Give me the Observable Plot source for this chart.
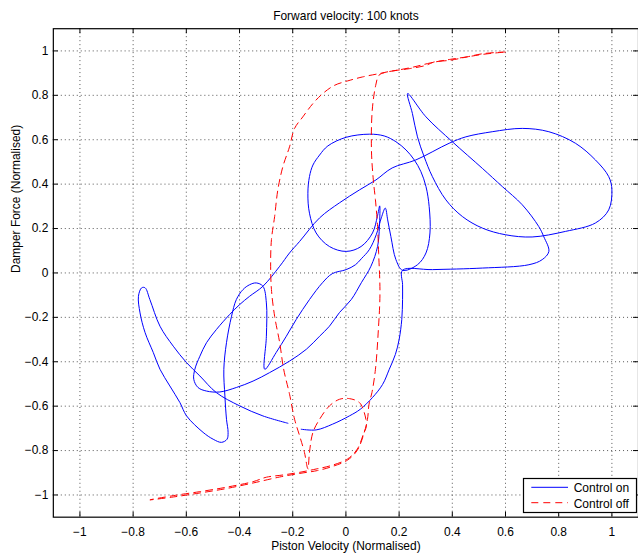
<!DOCTYPE html>
<html><head><meta charset="utf-8">
<script src="https://cdn.jsdelivr.net/npm/d3@7"></script>
<script src="https://cdn.jsdelivr.net/npm/@observablehq/plot@0.6"></script>
<style>
html,body{margin:0;padding:0;overflow:hidden;background:#fff;}
#wrap{position:relative;width:638px;height:555px;overflow:hidden;}
#legend{position:absolute;left:522px;top:477px;}
</style></head><body><div id="wrap"></div>
<script>
// Axis ticks
const xTicks = [-1, -0.8, -0.6, -0.4, -0.2, 0, 0.2, 0.4, 0.6, 0.8, 1];
const yTicks = [-1, -0.8, -0.6, -0.4, -0.2, 0, 0.2, 0.4, 0.6, 0.8, 1];

// Series: Control on (piston velocity, damper force)
const onX = [-0.168,-0.112,-0.050,0.013,0.054,0.100,0.138,0.163,0.186,0.200,
0.210,0.213,0.213,0.213,0.325,0.513,0.688,0.738,0.763,0.744,
0.725,0.663,0.588,0.513,0.400,0.301,0.232,0.250,0.269,0.294,
0.325,0.376,0.438,0.513,0.600,0.700,0.825,0.938,0.988,1.000,
0.988,0.938,0.863,0.763,0.663,0.550,0.451,0.388,0.263,0.174,
0.113,0.051,-0.024,-0.099,-0.174,-0.212,-0.249,-0.312,-0.362,-0.399,
-0.437,-0.487,-0.524,-0.549,-0.568,-0.572,-0.556,-0.524,-0.474,-0.412,
-0.349,-0.287,-0.212,-0.149,-0.099,-0.062,-0.024,0.020,0.058,0.094,
0.119,0.126,0.127,0.118,0.100,0.057,0.001,-0.062,-0.112,-0.137,
-0.143,-0.137,-0.124,-0.099,-0.068,0.001,0.088,0.144,0.188,0.226,
0.257,0.282,0.301,0.313,0.316,0.301,0.269,0.213,0.188,0.169,
0.157,0.148,0.133,0.114,0.088,0.058,0.036,0.001,-0.051,-0.088,
-0.137,-0.187,-0.224,-0.262,-0.305,-0.299,-0.299,-0.312,-0.337,-0.362,
-0.387,-0.412,-0.430,-0.449,-0.459,-0.455,-0.449,-0.443,-0.447,-0.468,
-0.499,-0.537,-0.599,-0.624,-0.662,-0.699,-0.724,-0.755,-0.774,-0.780,
-0.768,-0.755,-0.737,-0.699,-0.649,-0.599,-0.549,-0.487,-0.399,-0.312,
-0.218];
const onY = [-0.704,-0.707,-0.681,-0.644,-0.614,-0.561,-0.502,-0.434,-0.367,-0.300,
-0.210,-0.120,-0.053,0.012,0.015,0.022,0.037,0.060,0.097,0.163,
0.209,0.307,0.389,0.471,0.591,0.703,0.808,0.718,0.613,0.524,
0.434,0.329,0.254,0.202,0.172,0.162,0.187,0.225,0.284,0.374,
0.434,0.509,0.584,0.636,0.651,0.636,0.613,0.584,0.509,0.473,
0.419,0.374,0.316,0.248,0.142,0.090,0.030,-0.060,-0.105,-0.142,
-0.187,-0.255,-0.314,-0.375,-0.434,-0.479,-0.516,-0.532,-0.536,-0.516,
-0.487,-0.449,-0.397,-0.344,-0.285,-0.240,-0.178,-0.120,-0.044,0.030,
0.119,0.209,0.302,0.253,0.180,0.119,0.097,0.119,0.180,0.269,
0.359,0.434,0.486,0.531,0.572,0.611,0.625,0.617,0.591,0.554,
0.509,0.456,0.389,0.299,0.180,0.090,0.037,0.012,0.060,0.164,
0.239,0.292,0.248,0.172,0.105,0.064,0.037,0.015,-0.003,-0.044,
-0.120,-0.210,-0.285,-0.358,-0.434,-0.285,-0.135,-0.060,-0.045,-0.053,
-0.075,-0.120,-0.195,-0.314,-0.434,-0.554,-0.659,-0.718,-0.749,-0.763,
-0.749,-0.718,-0.644,-0.584,-0.509,-0.434,-0.359,-0.269,-0.180,-0.105,
-0.067,-0.067,-0.120,-0.240,-0.330,-0.404,-0.464,-0.539,-0.599,-0.644,
-0.677];

// Series: Control off
const offX = [0.599,0.518,0.455,0.393,0.331,0.301,0.238,0.175,0.126,0.063,
0.007,-0.043,-0.087,-0.124,-0.162,-0.193,-0.212,-0.237,-0.256,-0.268,
-0.280,-0.283,-0.280,-0.268,-0.249,-0.234,-0.212,-0.193,-0.174,-0.156,
-0.143,-0.137,-0.124,-0.099,-0.062,-0.024,0.013,0.051,0.069,0.077,
0.068,0.043,0.006,-0.057,-0.112,-0.174,-0.237,-0.299,-0.349,-0.449,
-0.549,-0.649,-0.737,-0.649,-0.549,-0.449,-0.349,-0.249,-0.174,-0.107,
-0.057,0.006,0.043,0.068,0.081,0.087,0.098,0.111,0.122,0.128,
0.123,0.119,0.111,0.103,0.096,0.099,0.112,0.124,0.144,0.193,
0.256,0.318,0.392,0.455,0.518,0.599];
const offY = [0.995,0.988,0.973,0.958,0.950,0.935,0.920,0.910,0.898,0.883,
0.865,0.845,0.808,0.763,0.703,0.651,0.568,0.479,0.374,0.254,
0.150,0.045,-0.075,-0.195,-0.314,-0.434,-0.546,-0.659,-0.734,-0.808,
-0.883,-0.808,-0.718,-0.659,-0.599,-0.569,-0.566,-0.584,-0.629,-0.690,
-0.718,-0.793,-0.838,-0.868,-0.883,-0.898,-0.910,-0.920,-0.940,-0.965,
-0.985,-1.003,-1.022,-1.009,-0.991,-0.971,-0.946,-0.919,-0.903,-0.890,
-0.874,-0.843,-0.798,-0.722,-0.659,-0.591,-0.538,-0.434,-0.255,-0.090,
0.090,0.209,0.329,0.419,0.554,0.733,0.845,0.890,0.902,0.913,
0.928,0.946,0.962,0.973,0.985,0.995];

const title = "Forward velocity: 100 knots";
const xLabel = "Piston Velocity (Normalised)";
const yLabel = "Damper Force (Normalised)";
const seriesNames = ["Control on", "Control off"];

const onData = onX.map((x, i) => ({x, y: onY[i]}));
const offData = offX.map((x, i) => ({x, y: offY[i]}));
const fmt = d => (d < 0 ? "\u2212" : "") + Math.abs(d);

const W = 640, H = 555, mL = 53, mR = 0, mT = 28.3, mB = 36.7;
const fw = W - mL - mR, fh = H - mT - mB;
const FONT = "'Liberation Sans', Arial, Helvetica, sans-serif";

const chart = Plot.plot({
  width: W, height: H,
  marginLeft: mL, marginRight: mR, marginTop: mT, marginBottom: mB,
  x: {domain: [-1.1, 1.1]},
  y: {domain: [-1.1, 1.1]},
  style: {fontFamily: FONT, fontSize: "12px", background: "white", color: "black", overflow: "visible"},
  marks: [
    Plot.ruleX(xTicks, {stroke: "#555", strokeWidth: 1, strokeDasharray: "1,3"}),
    Plot.ruleY(yTicks, {stroke: "#555", strokeWidth: 1, strokeDasharray: "1,3"}),
    Plot.line(onData, {x: "x", y: "y", stroke: "#0000ff", strokeWidth: 1, curve: "catmull-rom"}),
    Plot.line(offData, {x: "x", y: "y", stroke: "#ff0000", strokeWidth: 1, strokeDasharray: "7,5", curve: "catmull-rom"}),
    Plot.ruleX(xTicks, {insetTop: fh - 5, stroke: "black"}),
    Plot.ruleX(xTicks, {insetBottom: fh - 5, stroke: "black"}),
    Plot.ruleY(yTicks, {insetRight: fw - 5, stroke: "black"}),
    Plot.ruleY(yTicks, {insetLeft: fw - 5, stroke: "black"}),
    Plot.frame({stroke: "black", strokeWidth: 1.2}),
    Plot.axisX(xTicks, {tickSize: 0, tickPadding: 10, tickFormat: fmt, label: null, fontSize: 12}),
    Plot.axisY(yTicks, {tickSize: 0, tickPadding: 5, tickFormat: fmt, label: null, fontSize: 12}),
    Plot.text([title], {frameAnchor: "top", lineAnchor: "bottom", dy: -8.3, fontSize: 12}),
    Plot.text([xLabel], {frameAnchor: "bottom", lineAnchor: "bottom", dy: 32.5, fontSize: 12}),
    Plot.text([yLabel], {frameAnchor: "left", lineAnchor: "bottom", rotate: -90, dx: -33.5, fontSize: 12})
  ]
});
const wrap = document.getElementById("wrap");
wrap.appendChild(chart);

// Legend
const leg = d3.create("svg").attr("id", "legend").attr("width", 116).attr("height", 37)
  .style("font-family", FONT).style("font-size", "12px");
leg.append("rect").attr("x", 1.5).attr("y", 1.5).attr("width", 113).attr("height", 34)
  .attr("fill", "white").attr("stroke", "black").attr("stroke-width", 1.2);
const styles = [{stroke: "#0000ff", dash: null}, {stroke: "#ff0000", dash: "7,5"}];
seriesNames.forEach((name, i) => {
  const yy = i === 0 ? 10.3 : 25.7;
  leg.append("line").attr("x1", 9.3).attr("x2", 46).attr("y1", yy).attr("y2", yy)
    .attr("stroke", styles[i].stroke).attr("stroke-width", 1)
    .attr("stroke-dasharray", styles[i].dash);
  leg.append("text").attr("x", 51.7).attr("y", i === 0 ? 14.7 : 31.3).attr("fill", "black").text(name);
});
wrap.appendChild(leg.node());
</script></body></html>
